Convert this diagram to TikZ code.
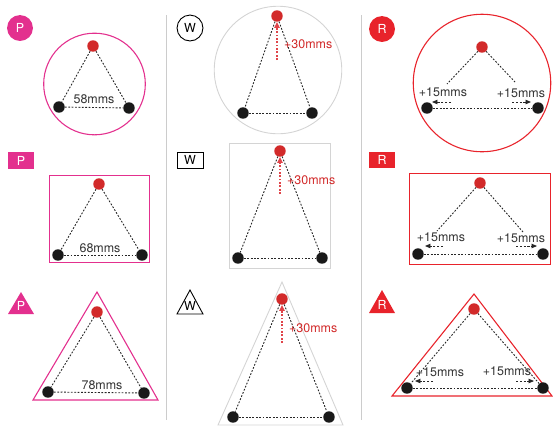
\documentclass[tikz,border=0pt]{standalone}
\usepackage{fontspec}
\setmainfont{TeX Gyre Heros}
\usetikzlibrary{arrows.meta}
\definecolor{pmag}{HTML}{E3308E}
\definecolor{rred}{HTML}{E8232B}
\definecolor{dotred}{HTML}{D22A2A}
\definecolor{arrred}{HTML}{E0454A}
\definecolor{lgray}{HTML}{D4D4D4}
\definecolor{sepgray}{HTML}{CCCCCC}
\definecolor{txt}{HTML}{333333}
\tikzset{
  mic/.style={circle,inner sep=0pt,minimum size=11.5pt},
  blackmic/.style={mic,fill=black!90},
  redmic/.style={mic,fill=dotred},
  dotline/.style={black!85,line width=0.9pt,dash pattern=on 1.8pt off 1.6pt},
  redarrow/.style={arrred,line width=1.4pt,dash pattern=on 1.8pt off 1.6pt,-{Triangle[length=6pt,width=5.5pt]}},
  smallarrow/.style={black!85,line width=0.9pt,dash pattern=on 2.2pt off 1.6pt,-{Triangle[length=5.5pt,width=4.5pt]}},
  lbl/.style={font=\fontsize{12.5}{13}\selectfont,text=txt,inner sep=1pt},
  redlbl/.style={font=\fontsize{12.5}{13}\selectfont,text=dotred,inner sep=1pt,anchor=west},
  badgetxt/.style={font=\fontsize{12.5}{13}\selectfont,inner sep=0pt},
  sep/.style={sepgray,line width=1pt}
}
\begin{document}
\begin{tikzpicture}[x=1bp,y=-1bp]
\useasboundingbox (0,0) rectangle (553,427);
% separators
\coordinate (s1a) at (166,15); \coordinate (s1b) at (166,420);
\coordinate (s2a) at (361,15); \coordinate (s2b) at (361,420);
\draw[sep] (s1a) -- (s1b);
\draw[sep] (s2a) -- (s2b);

% ===== Row 1: circles =====
% P circle
\node[circle,fill=pmag,minimum size=26pt,inner sep=0pt,text=white,badgetxt] (b1) at (20,28) {P};
\node[circle,draw=pmag,line width=1.1pt,minimum size=102pt,inner sep=0pt] (c1) at (94.5,84) {};
\node[redmic] (r1) at (93,46) {};
\node[blackmic] (l1) at (59,107) {};
\node[blackmic] (k1) at (129,108) {};
\draw[dotline] (r1) -- (l1);
\draw[dotline] (r1) -- (k1);
\draw[dotline] (l1) -- (k1);
\node[lbl] (t1) at (94,99.5) {58mms};

% W circle
\node[circle,draw=black,fill=white,line width=0.9pt,minimum size=26pt,inner sep=0pt,badgetxt] (b2) at (190,28) {W};
\node[circle,draw=lgray,line width=0.9pt,minimum size=128pt,inner sep=0pt] (c2) at (278,70) {};
\node[redmic] (r2) at (277,16) {};
\node[blackmic] (l2) at (243,113) {};
\node[blackmic] (k2) at (312,113) {};
\draw[dotline] (r2) -- (l2);
\draw[dotline] (r2) -- (k2);
\draw[dotline] (l2) -- (k2);
\coordinate (a2s) at (277,60);
\coordinate (a2e) at (277,22);
\draw[redarrow] (a2s) -- (a2e);
\node[redlbl] (t2) at (283,44) {+30mms};

% R circle
\node[circle,fill=rred,minimum size=26pt,inner sep=0pt,text=white,badgetxt] (b3) at (382,29) {R};
\node[circle,draw=rred,line width=1.1pt,minimum size=138pt,inner sep=0pt] (c3) at (482,83) {};
\node[redmic] (r3) at (482,47) {};
\node[blackmic] (l3) at (427,108) {};
\node[blackmic] (k3) at (538,108) {};
\coordinate (e3l) at (447,84);
\coordinate (e3r) at (515,82);
\draw[dotline] (r3) -- (e3l);
\draw[dotline] (r3) -- (e3r);
\draw[dotline] (l3) -- (k3);
\node[lbl] (t3a) at (443,92) {+15mms};
\node[lbl] (t3b) at (521,93) {+15mms};
\coordinate (a3ls) at (451,102); \coordinate (a3le) at (432,102);
\coordinate (a3rs) at (512,102); \coordinate (a3re) at (531,102);
\draw[smallarrow] (a3ls) -- (a3le);
\draw[smallarrow] (a3rs) -- (a3re);

% ===== Row 2: rectangles =====
% P rect
\node[fill=pmag,minimum width=26pt,minimum height=17pt,inner sep=0pt,text=white,badgetxt] (b4) at (21,160.5) {P};
\node[draw=pmag,line width=1.1pt,minimum width=101pt,minimum height=88pt,inner sep=0pt] (c4) at (99.5,219) {};
\node[redmic] (r4) at (99,184) {};
\node[blackmic] (l4) at (58,255) {};
\node[blackmic] (k4) at (142,255) {};
\draw[dotline] (r4) -- (l4);
\draw[dotline] (r4) -- (k4);
\draw[dotline] (l4) -- (k4);
\node[lbl] (t4) at (100,248) {68mms};

% W rect
\node[draw=black,fill=white,line width=0.9pt,minimum width=26pt,minimum height=16pt,inner sep=0pt,badgetxt] (b5) at (190,160) {W};
\node[draw=lgray,line width=0.9pt,minimum width=102pt,minimum height=126pt,inner sep=0pt] (c5) at (280,206) {};
\node[redmic] (r5) at (280,151) {};
\node[blackmic] (l5) at (238,258) {};
\node[blackmic] (k5) at (322,258) {};
\draw[dotline] (r5) -- (l5);
\draw[dotline] (r5) -- (k5);
\draw[dotline] (l5) -- (k5);
\coordinate (a5s) at (280,194);
\coordinate (a5e) at (280,157);
\draw[redarrow] (a5s) -- (a5e);
\node[redlbl] (t5) at (286,180) {+30mms};

% R rect
\node[fill=rred,minimum width=26pt,minimum height=17pt,inner sep=0pt,text=white,badgetxt] (b6) at (382,160) {R};
\node[draw=rred,line width=1.1pt,minimum width=142pt,minimum height=92pt,inner sep=0pt] (c6) at (480,219) {};
\node[redmic] (r6) at (480,183) {};
\node[blackmic] (l6) at (418,254) {};
\node[blackmic] (k6) at (543,254) {};
\coordinate (e6l) at (437,231);
\coordinate (e6r) at (523,232);
\draw[dotline] (r6) -- (e6l);
\draw[dotline] (r6) -- (e6r);
\draw[dotline] (l6) -- (k6);
\node[lbl] (t6a) at (441,237) {+15mms};
\node[lbl] (t6b) at (521,238) {+15mms};
\coordinate (a6ls) at (443,246); \coordinate (a6le) at (425,246);
\coordinate (a6rs) at (516,246); \coordinate (a6re) at (537,246);
\draw[smallarrow] (a6ls) -- (a6le);
\draw[smallarrow] (a6rs) -- (a6re);

% ===== Row 3: triangles =====
% P triangle
\coordinate (b7a) at (21,292); \coordinate (b7b) at (8,314); \coordinate (b7c) at (34,314);
\fill[pmag] (b7a) -- (b7b) -- (b7c) -- cycle;
\node[text=white,badgetxt] (b7) at (21,306) {P};
\coordinate (c7a) at (97,292); \coordinate (c7b) at (33,400); \coordinate (c7c) at (158,400);
\draw[pmag,line width=1.1pt,line join=miter] (c7a) -- (c7b) -- (c7c) -- cycle;
\node[redmic] (r7) at (97,312) {};
\node[blackmic] (l7) at (48,392) {};
\node[blackmic] (k7) at (144,393) {};
\draw[dotline] (r7) -- (l7);
\draw[dotline] (r7) -- (k7);
\draw[dotline] (l7) -- (k7);
\node[lbl] (t7) at (102,385) {78mms};

% W triangle
\coordinate (b8a) at (190,290); \coordinate (b8b) at (177,314); \coordinate (b8c) at (203,314);
\draw[black,fill=white,line width=0.9pt,line join=miter] (b8a) -- (b8b) -- (b8c) -- cycle;
\node[badgetxt] (b8) at (190,306) {W};
\coordinate (c8a) at (282,282); \coordinate (c8b) at (218,425); \coordinate (c8c) at (343,425);
\draw[lgray,line width=0.9pt,line join=miter] (c8a) -- (c8b) -- (c8c) -- cycle;
\node[redmic] (r8) at (282,299) {};
\node[blackmic] (l8) at (233,417) {};
\node[blackmic] (k8) at (329,417) {};
\draw[dotline] (r8) -- (l8);
\draw[dotline] (r8) -- (k8);
\draw[dotline] (l8) -- (k8);
\coordinate (a8s) at (282,343);
\coordinate (a8e) at (282,305);
\draw[redarrow] (a8s) -- (a8e);
\node[redlbl] (t8) at (288,328) {+30mms};

% R triangle
\coordinate (b9a) at (382,290); \coordinate (b9b) at (369,313); \coordinate (b9c) at (395,313);
\fill[rred] (b9a) -- (b9b) -- (b9c) -- cycle;
\node[text=white,badgetxt] (b9) at (382,305) {R};
\coordinate (c9a) at (474,294); \coordinate (c9b) at (392,396); \coordinate (c9c) at (552,396);
\draw[rred,line width=1.1pt,line join=miter] (c9a) -- (c9b) -- (c9c) -- cycle;
\node[redmic] (r9) at (474,309) {};
\node[blackmic] (l9) at (407,388) {};
\node[blackmic] (k9) at (543,388) {};
\draw[dotline] (r9) -- (l9);
\draw[dotline] (r9) -- (k9);
\draw[dotline] (l9) -- (k9);
\node[lbl] (t9a) at (440,372) {+15mms};
\node[lbl] (t9b) at (507,371) {+15mms};
\coordinate (a9ls) at (433,381); \coordinate (a9le) at (415,381);
\coordinate (a9rs) at (516,381); \coordinate (a9re) at (534,381);
\draw[smallarrow] (a9ls) -- (a9le);
\draw[smallarrow] (a9rs) -- (a9re);
\end{tikzpicture}
\end{document}
